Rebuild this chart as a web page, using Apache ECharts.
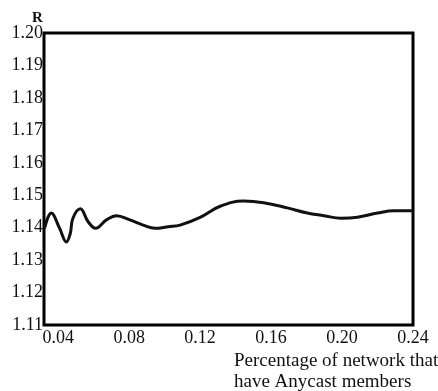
<!doctype html>
<html lang="en">
<head>
    <meta charset="UTF-8">
    <script src="https://cdn.jsdelivr.net/npm/echarts@6/dist/echarts.min.js"></script>
    <title>R vs Anycast</title>
    <style>
        body { margin: 0; background: #fff; }
    </style>
</head>
<body>
<div id="main" style="width: 438px;height:391px;"></div>
</body>
<script>
    // values
    var xValues = [0.0323, 0.0361, 0.0408, 0.0446, 0.0468, 0.0483, 0.0525, 0.0568, 0.0611, 0.0672,
        0.0729, 0.0804, 0.0879, 0.0945, 0.1021, 0.1087, 0.1200, 0.1313, 0.1445, 0.1558,
        0.1691, 0.1804, 0.1898, 0.1993, 0.2087, 0.2200, 0.2294, 0.2388, 0.2400];
    var rValues = [1.1398, 1.1445, 1.1398, 1.1356, 1.1382, 1.1429, 1.1458, 1.1419, 1.1398, 1.1424,
        1.1437, 1.1424, 1.1408, 1.1398, 1.1403, 1.1408, 1.1432, 1.1466, 1.1482, 1.1477,
        1.1461, 1.1445, 1.1437, 1.1429, 1.1432, 1.1445, 1.1452, 1.1452, 1.1452];
    var xTickLabels = ['0.04', '0.08', '0.12', '0.16', '0.20', '0.24'];
    var yTickLabels = ['1.11', '1.12', '1.13', '1.14', '1.15', '1.16', '1.17', '1.18', '1.19', '1.20'];

    var points = [];
    for (var i = 0; i < xValues.length; i++) {
        points.push([xValues[i], rValues[i]]);
    }

    var font = 'Liberation Serif';
    var myChart = echarts.init(document.getElementById('main'));
    var option = {
        animation: false,
        grid: {
            left: 44,
            right: 25,
            top: 33,
            bottom: 66,
            show: true,
            borderColor: '#000',
            borderWidth: 3
        },
        xAxis: {
            type: 'value',
            min: 0.032,
            max: 0.24,
            interval: 0.008,
            axisLine: {show: false},
            axisTick: {show: false},
            splitLine: {show: false},
            axisLabel: {
                showMinLabel: true,
                showMaxLabel: true,
                margin: 4,
                color: '#111',
                fontFamily: font,
                fontSize: 18,
                formatter: function (v) {
                    var k = Math.round(v * 1000);
                    if (k % 40 !== 0) return '';
                    var idx = k / 40 - 1;
                    return xTickLabels[idx] || '';
                }
            }
        },
        yAxis: {
            type: 'value',
            min: 1.11,
            max: 1.20,
            interval: 0.01,
            axisLine: {show: false},
            axisTick: {show: false},
            splitLine: {show: false},
            axisLabel: {
                margin: 1,
                color: '#111',
                fontFamily: font,
                fontSize: 18,
                formatter: function (v) {
                    var idx = Math.round((v - 1.11) * 100);
                    return yTickLabels[idx] || '';
                }
            }
        },
        graphic: [
            {
                type: 'text',
                left: 32,
                top: 11,
                style: {text: 'R', font: 'bold 15px "Liberation Serif"', fill: '#111'}
            },
            {
                type: 'text',
                left: 234,
                top: 351,
                style: {
                    text: 'Percentage of network that\nhave Anycast members',
                    font: '19px "Liberation Serif"',
                    lineHeight: 21,
                    fill: '#111'
                }
            }
        ],
        series: [
            {
                type: 'line',
                data: points,
                smooth: 0.4,
                showSymbol: false,
                lineStyle: {color: '#111', width: 3}
            }
        ]
    };
    myChart.setOption(option);
</script>
</html>
